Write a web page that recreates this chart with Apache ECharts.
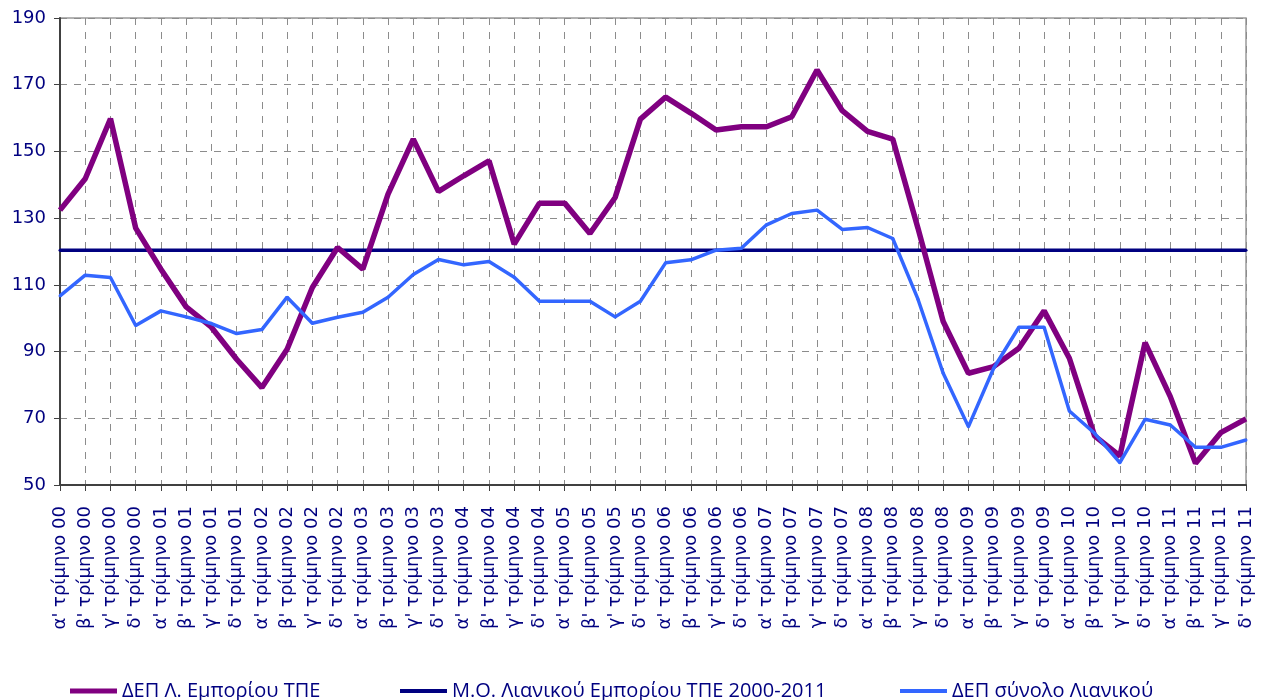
<!DOCTYPE html>
<html>
<head>
<meta charset="utf-8">
<script src="https://cdn.jsdelivr.net/npm/echarts@6/dist/echarts.min.js"></script>
<style>
  html, body { margin: 0; padding: 0; background: #fff; }
  #chart { width: 1263px; height: 700px; }
</style>
</head>
<body>
<div id="chart"></div>
<script>
// quarters 2000-2011
const quarterNames = ["α'", "β'", "γ'", "δ'"];
const years = ['00', '01', '02', '03', '04', '05', '06', '07', '08', '09', '10', '11'];
const categories = [];
years.forEach(y => quarterNames.forEach(q => categories.push(q + ' τρίμηνο ' + y)));

const seriesNames = [
  'ΔΕΠ Λ. Εμπορίου ΤΠΕ',
  'Μ.Ο. Λιανικού Εμπορίου ΤΠΕ 2000-2011',
  'ΔΕΠ σύνολο Λιανικού'
];

const tradeIct = [
  132.4, 141.8, 159.8, 127.0, 114.7, 103.4, 97.3, 87.7,
  79.2, 90.7, 109.2, 121.2, 114.7, 137.2, 153.7, 138.0,
  142.7, 147.2, 122.2, 134.5, 134.5, 125.4, 136.2, 159.7,
  166.3, 161.5, 156.4, 157.4, 157.4, 160.4, 174.4, 162.2,
  156.0, 153.7, 127.0, 99.0, 83.5, 85.5, 91.0, 102.2,
  88.0, 64.7, 58.7, 92.7, 76.5, 56.5, 65.7, 69.8
];

const avgLevel = 120.4;
const avgLine = categories.map(() => avgLevel);

const retailTotal = [
  106.7, 112.9, 112.2, 97.8, 102.2, 100.4, 98.4, 95.4,
  96.6, 106.3, 98.5, 100.3, 101.8, 106.3, 113.1, 117.6,
  116.0, 117.0, 112.3, 105.1, 105.1, 105.1, 100.4, 105.1,
  116.6, 117.5, 120.4, 121.0, 128.0, 131.4, 132.4, 126.6,
  127.2, 123.9, 105.7, 83.5, 67.5, 85.0, 97.3, 97.3,
  72.2, 65.5, 56.7, 69.7, 68.0, 61.3, 61.3, 63.5
];

const yTicks = { min: 50, max: 190, interval: 20 };

const navy = '#000080';
const gridDash = { color: '#8c8c8c', type: [7, 7], width: 1 };

const chart = echarts.init(document.getElementById('chart'));

const legendBase = {
  top: 676,
  icon: 'rect',
  itemWidth: 47,
  itemGap: 4,
  textStyle: { color: navy, fontSize: 20, fontFamily: 'Open Sans', padding: [2, 0, 0, 0] }
};

chart.setOption({
  animation: false,
  backgroundColor: '#ffffff',
  grid: {
    left: 60, right: 17, top: 18, bottom: 215,
    show: true, borderColor: '#9a9a9a', borderWidth: 1.5
  },
  legend: [
    Object.assign({ left: 65, itemHeight: 5, data: [seriesNames[0]] }, legendBase),
    Object.assign({ left: 395, itemHeight: 4, data: [seriesNames[1]] }, legendBase),
    Object.assign({ left: 895, itemHeight: 4, data: [seriesNames[2]] }, legendBase)
  ],
  xAxis: {
    type: 'category',
    data: categories,
    boundaryGap: false,
    axisLine: { lineStyle: { color: '#404040', width: 2 } },
    axisTick: { show: true, length: 6, alignWithLabel: true, lineStyle: { color: '#404040' } },
    axisLabel: {
      interval: 0,
      rotate: 90,
      color: navy,
      fontSize: 18,
      fontFamily: 'DejaVu Sans',
      margin: 21
    },
    splitLine: { show: true, lineStyle: gridDash }
  },
  yAxis: {
    type: 'value',
    min: yTicks.min,
    max: yTicks.max,
    interval: yTicks.interval,
    axisLine: { show: true, lineStyle: { color: '#404040', width: 2 } },
    axisTick: { show: true, length: 6, lineStyle: { color: '#404040' } },
    axisLabel: { color: navy, fontSize: 18, fontFamily: 'DejaVu Sans', margin: 14 },
    splitLine: { show: true, lineStyle: gridDash }
  },
  series: [
    {
      name: seriesNames[0],
      type: 'line',
      data: tradeIct,
      symbol: 'none',
      lineStyle: { color: '#800080', width: 5.5 },
      itemStyle: { color: '#800080' },
      z: 4
    },
    {
      name: seriesNames[1],
      type: 'line',
      data: avgLine,
      symbol: 'circle',
      symbolSize: 3,
      lineStyle: { color: navy, width: 3.5 },
      itemStyle: { color: navy },
      z: 3
    },
    {
      name: seriesNames[2],
      type: 'line',
      data: retailTotal,
      symbol: 'circle',
      symbolSize: 3,
      lineStyle: { color: '#3366ff', width: 3.5 },
      itemStyle: { color: '#3366ff' },
      z: 5
    }
  ]
});
</script>
</body>
</html>
